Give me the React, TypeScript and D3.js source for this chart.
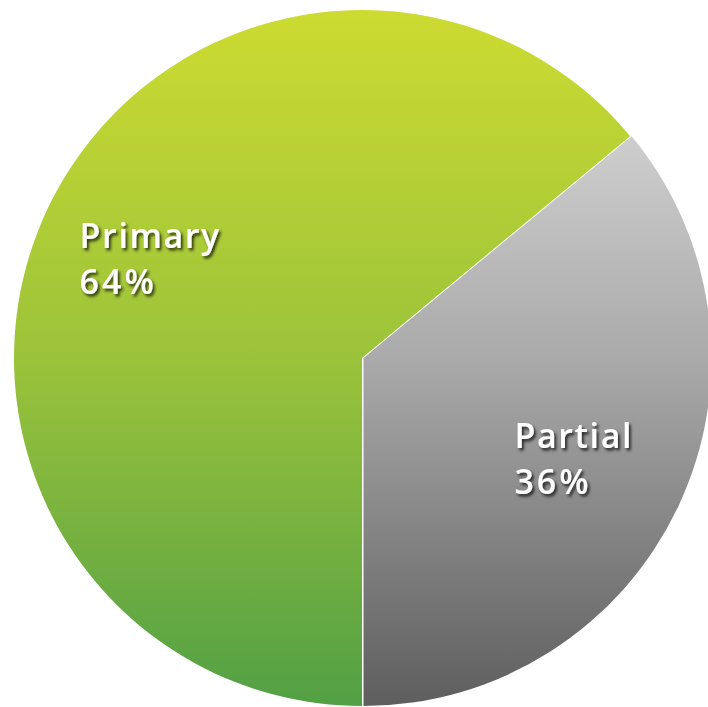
import React, { useEffect, useRef } from "react";
import * as d3 from "d3";

const categories = ["Primary", "Partial"];
const values = [64, 36];
const labels = ["64%", "36%"];

const W = 708;
const H = 707;
const CX = 362;
const CY = 358;
const R = 348;

export default function App() {
  const ref = useRef<SVGSVGElement | null>(null);

  useEffect(() => {
    const svg = d3.select(ref.current);
    svg.selectAll("*").remove();
    const defs = svg.append("defs");

    const gGreen = defs.append("linearGradient").attr("id", "gGreen")
      .attr("gradientUnits", "userSpaceOnUse")
      .attr("x1", 0).attr("x2", 0).attr("y1", -R).attr("y2", R);
    gGreen.append("stop").attr("offset", "0%").attr("stop-color", "#cddb31");
    gGreen.append("stop").attr("offset", "50%").attr("stop-color", "#9bc33a");
    gGreen.append("stop").attr("offset", "100%").attr("stop-color", "#52a045");

    const gGray = defs.append("linearGradient").attr("id", "gGray")
      .attr("gradientUnits", "userSpaceOnUse")
      .attr("x1", 0).attr("x2", 0).attr("y1", -R).attr("y2", R);
    gGray.append("stop").attr("offset", "0%").attr("stop-color", "#e2e2e2");
    gGray.append("stop").attr("offset", "50%").attr("stop-color", "#aaaaaa");
    gGray.append("stop").attr("offset", "100%").attr("stop-color", "#5e5e5e");

    const f = defs.append("filter").attr("id", "shadow")
      .attr("x", "-20%").attr("y", "-20%").attr("width", "140%").attr("height", "140%");
    f.append("feDropShadow").attr("dx", 2).attr("dy", 2.5).attr("stdDeviation", 1.6)
      .attr("flood-color", "#000").attr("flood-opacity", 0.75);

    const fills = ["url(#gGreen)", "url(#gGray)"];
    const shiftX = [0, 1.5];

    const pie = d3.pie<number>().sort(null).startAngle(Math.PI).endAngle(3 * Math.PI);
    const arcs = pie(values);
    const arc = d3.arc<d3.PieArcDatum<number>>().innerRadius(0).outerRadius(R);
    const labelArc = d3.arc<d3.PieArcDatum<number>>().innerRadius(234).outerRadius(234);

    const root = svg.append("g").attr("transform", `translate(${CX},${CY})`);

    arcs.forEach((a, i) => {
      root.append("g")
        .attr("transform", `translate(${shiftX[i]},0)`)
        .append("path")
        .attr("d", arc(a) as string)
        .attr("fill", fills[i]);
    });

    arcs.forEach((a, i) => {
      const [lx, ly] = labelArc.centroid(a);
      const g = root.append("g").attr("filter", "url(#shadow)");
      const t = g.append("text")
        .attr("fill", "#ffffff")
        .attr("font-family", "'Open Sans', sans-serif")
        .attr("font-weight", 600)
        .attr("font-size", 34)
        .attr("letter-spacing", 1.6);
      t.append("tspan").attr("x", 0).attr("y", 0).text(categories[i]);
      t.append("tspan").attr("x", 0).attr("dy", 46).attr("letter-spacing", 3).text(labels[i]);
      const bb = (t.node() as SVGTextElement).getBBox();
      g.attr("transform", `translate(${lx - bb.x - bb.width / 2},${ly - bb.y - bb.height / 2})`);
    });
  }, []);

  return (
    <svg ref={ref} width={W} height={H} style={{ position: "absolute", left: 0, top: 0, display: "block" }} />
  );
}
